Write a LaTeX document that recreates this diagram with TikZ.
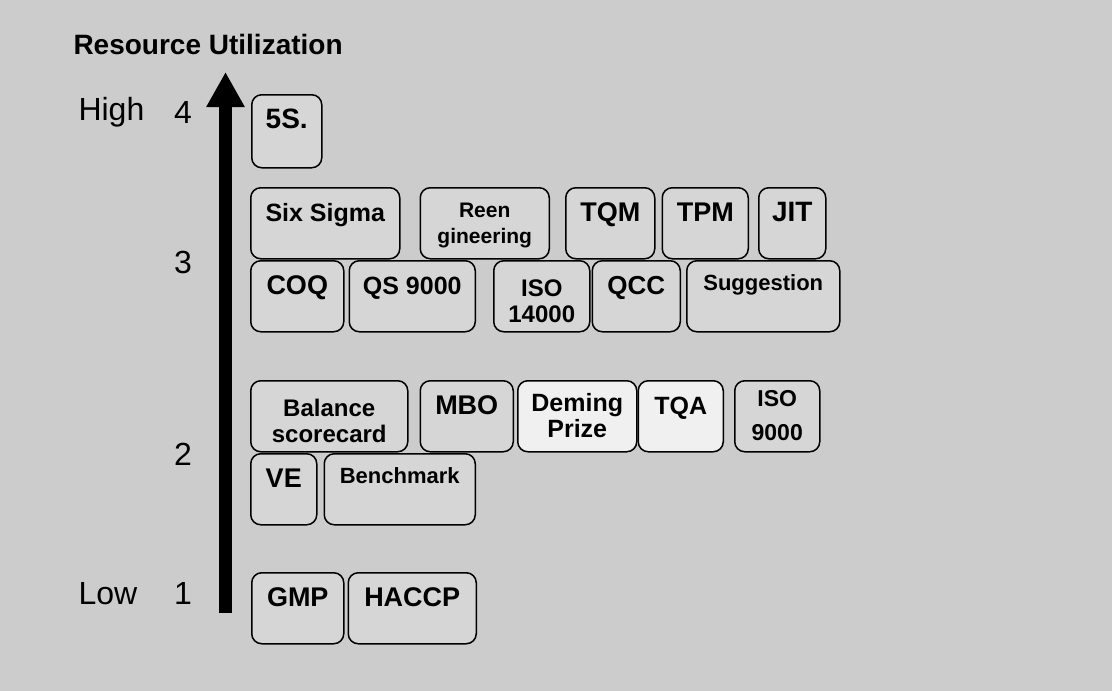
\documentclass[tikz,border=0pt]{standalone}
\usepackage{fontspec}
\setmainfont{Liberation Sans}
\usetikzlibrary{arrows.meta, positioning}

\definecolor{paper}{gray}{0.80}
\definecolor{boxgray}{gray}{0.84}
\definecolor{boxlight}{gray}{0.94}

\begin{document}
\begin{tikzpicture}[
  x=1pt, y=-1pt,
  tool/.style={draw, line width=1.5pt, rounded corners=10pt, fill=boxgray,
    inner sep=0pt, minimum height=71pt, align=center,
    text height=34pt, text depth=37pt,
    font=\bfseries\fontsize{#1}{26}\selectfont},
  tool/.default=27,
  twoline/.style={text height=#1, text depth=71pt-#1},
  level/.style={font=\fontsize{32}{32}\selectfont, anchor=base},
  axis/.style={line width=13pt, -{Triangle[width=36pt, length=35pt]}}
]
  \fill[paper] (0,0) rectangle (1112,691);

  % Axis
  \node[font=\bfseries\fontsize{28}{28}\selectfont, anchor=base west] (title) at (70,54) {Resource Utilization};
  \coordinate (axisbot) at (225.5,613);
  \coordinate (axistop) at (225.5,72);
  \draw[axis] (axisbot) -- (axistop);
  \node[level, anchor=base west] (high) at (75,120) {High};
  \node[level] (lvl4) at (183,123) {4};
  \node[level] (lvl3) at (183,273) {3};
  \node[level] (lvl2) at (183,465) {2};
  \node[level, anchor=base west] (low) at (75,604) {Low};
  \node[level] (lvl1) at (183,604) {1};

  % Level 4
  \node[tool=28, minimum width=70pt, anchor=north west, minimum height=73pt, text depth=39pt] (fives) at (251,94) {5S.};

  % Level 3
  \node[tool=25, minimum width=149pt, anchor=north west] (sixsigma) at (250,187) {Six Sigma};
  \node[tool=21, minimum width=129pt, right=19pt of sixsigma, twoline=56pt] (reeng) {Reen\\gineering};
  \node[tool, minimum width=89pt, right=15pt of reeng] (tqm) {TQM};
  \node[tool, minimum width=86pt, right=6pt of tqm] (tpm) {TPM};
  \node[tool=28, minimum width=67pt, right=9pt of tpm] (jit) {JIT};

  \node[tool, minimum width=93pt, anchor=north west] (coq) at (250,260) {COQ};
  \node[tool=25, minimum width=126pt, right=4pt of coq] (qs) {QS 9000};
  \node[tool=24, minimum width=96pt, right=17pt of qs, twoline=62pt] (iso14) {ISO\\14000};
  \node[tool=26, minimum width=88pt, right=1pt of iso14] (qcc) {QCC};
  \node[tool=22, minimum width=153pt, right=5pt of qcc, text height=30pt, text depth=41pt] (sugg) {Suggestion};

  % Level 2
  \node[tool=24, minimum width=157pt, anchor=north west, twoline=62pt] (balance) at (250,380) {Balance\\scorecard};
  \node[tool, minimum width=93pt, right=11pt of balance] (mbo) {MBO};
  \node[tool=25, minimum width=119pt, right=3pt of mbo, fill=boxlight, twoline=57pt] (deming) {Deming\\Prize};
  \node[tool=25, minimum width=85pt, right=0pt of deming, fill=boxlight] (tqa) {TQA};
  \node[tool=23, minimum width=85pt, right=10pt of tqa, twoline=60pt] (iso9) {ISO\\[8pt]9000};

  \node[tool, minimum width=66pt, anchor=north west] (ve) at (250,453) {VE};
  \node[tool=22, minimum width=151pt, right=6pt of ve, text height=30pt, text depth=41pt] (bench) {Benchmark};

  % Level 1
  \node[tool, minimum width=92pt, anchor=north west] (gmp) at (251,572) {GMP};
  \node[tool, minimum width=128pt, right=3pt of gmp] (haccp) {HACCP};
\end{tikzpicture}
\end{document}
